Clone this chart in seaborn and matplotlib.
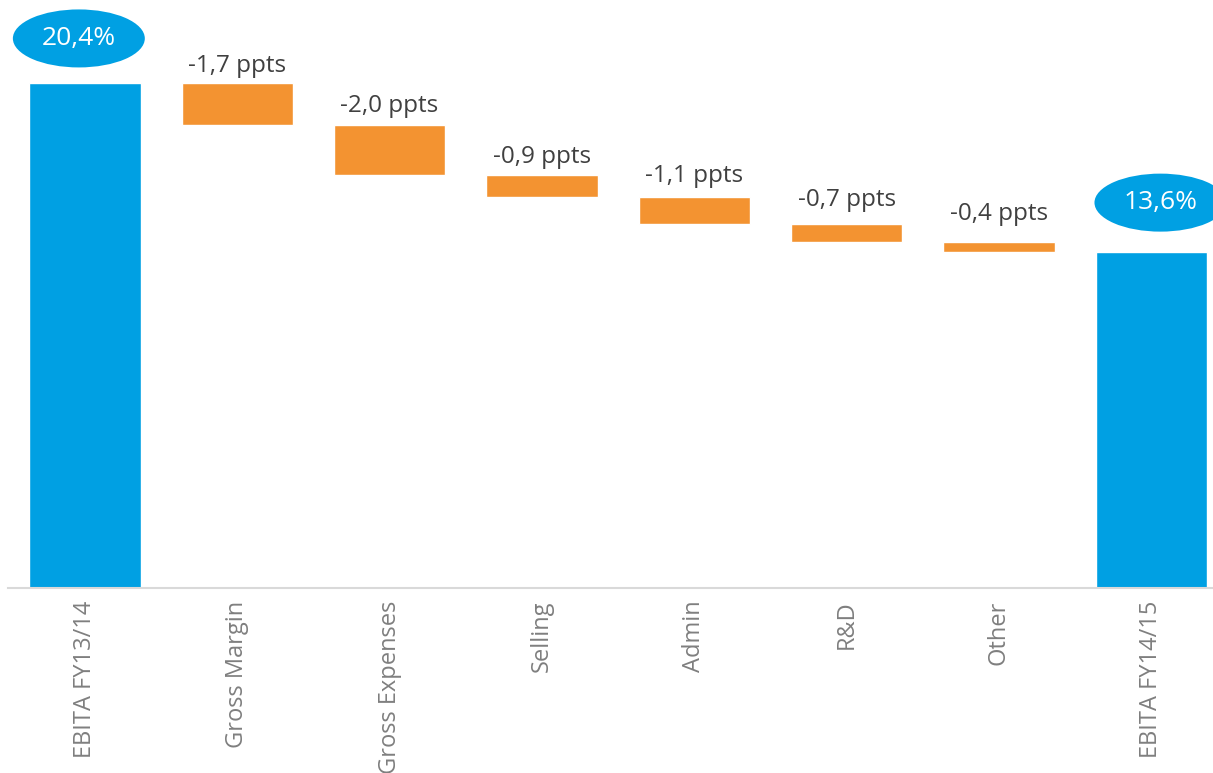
import matplotlib
matplotlib.use("Agg")
import matplotlib.pyplot as plt
from matplotlib.patches import Ellipse
import seaborn as sns
import pandas as pd
import numpy as np

categories = ["EBITA FY13/14", "Gross Margin", "Gross Expenses", "Selling",
              "Admin", "R&D", "Other", "EBITA FY14/15"]
start_value = 20.4
deltas = [-1.7, -2.0, -0.9, -1.1, -0.7, -0.4]
end_value = 13.6
total_labels = ["20,4%", "13,6%"]
delta_labels = ["-1,7 ppts", "-2,0 ppts", "-0,9 ppts", "-1,1 ppts", "-0,7 ppts", "-0,4 ppts"]

BLUE = "#00A0E3"
ORANGE = "#F39331"
GREY = "#7F7F7F"

sns.set_theme(style="white")
plt.rcParams["font.family"] = ["Open Sans", "DejaVu Sans"]

# running totals
tops = []
bottoms = []
cur = start_value
for d in deltas:
    tops.append(cur)
    cur = cur + d
    bottoms.append(cur)

totals_df = pd.DataFrame({"cat": [categories[0], categories[-1]],
                          "value": [start_value, end_value]})
delta_df = pd.DataFrame({"cat": categories[1:-1],
                         "height": [t - b for t, b in zip(tops, bottoms)],
                         "bottom": bottoms})

W, H, DPI = 1213, 773, 100
fig = plt.figure(figsize=(W / DPI, H / DPI), dpi=DPI)
ax = fig.add_axes([8 / W, (H - 588) / H, (W - 8) / W, 580 / H])

sns.barplot(data=totals_df, x="cat", y="value", order=categories, color=BLUE,
            saturation=1, width=0.73, errorbar=None, ax=ax)
sns.barplot(data=delta_df, x="cat", y="height", order=categories, color=ORANGE,
            saturation=1, width=0.73, errorbar=None, bottom=delta_df["bottom"].values, ax=ax)

ax.set_xlim(-0.505, 7.405)
ax.set_ylim(0, 23.45)
ax.set_xlabel("")
ax.set_ylabel("")
ax.set_yticks([])
for s in ["top", "left", "right"]:
    ax.spines[s].set_visible(False)
ax.spines["bottom"].set_color("#D9D9D9")
ax.spines["bottom"].set_linewidth(1.5)
ax.tick_params(axis="x", length=0, pad=9, labelsize=17, labelcolor=GREY)
plt.setp(ax.get_xticklabels(), rotation=90, va="top", ha="center")

# delta labels (gap in px between text baseline and bar top)
label_gaps_px = [11, 13, 12, 15, 18, 22]
for i, (t, lab, g) in enumerate(zip(tops, delta_labels, label_gaps_px)):
    ax.annotate(lab, (i + 1, t), xytext=(0, g * 72 / DPI), textcoords="offset points",
                ha="center", va="baseline", fontsize=17.5, color="#404040")

# total labels in ellipses
ppx = 152.4  # px per category
ppy = 580 / 23.45
for xi, val, lab, dx, off in [(0, start_value, total_labels[0], -0.04, 45),
                              (7, end_value, total_labels[1], 0.06, 49)]:
    cy = val + off / ppy
    e = Ellipse((xi + dx, cy), width=132 / ppx, height=58 / ppy,
                facecolor=BLUE, edgecolor="none", clip_on=False, zorder=3)
    ax.add_patch(e)
    ax.text(xi + dx, cy, lab, ha="center", va="center", fontsize=19,
            color="white", zorder=4, clip_on=False)

fig.savefig("out.png", dpi=DPI)
